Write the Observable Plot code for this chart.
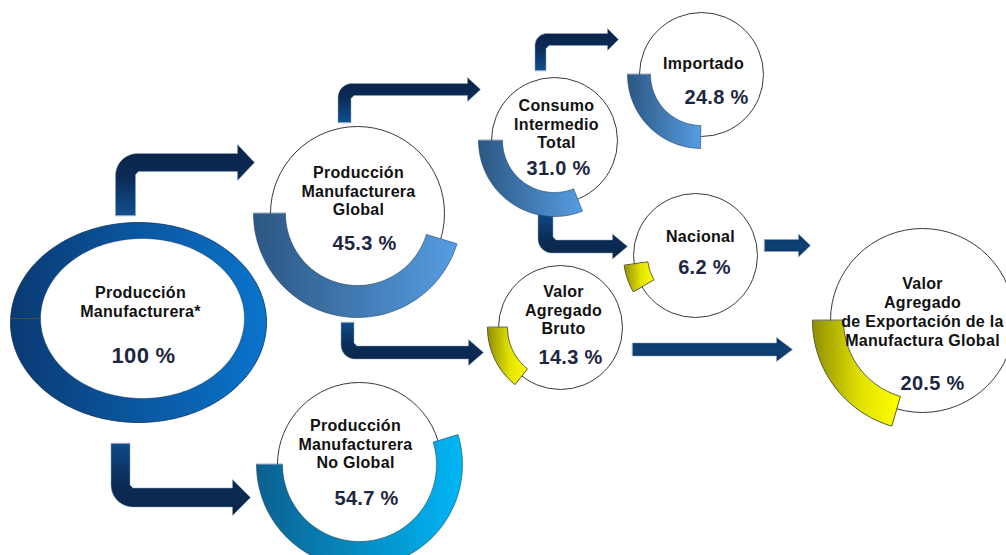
<!DOCTYPE html>
<html><head><meta charset="utf-8">
<script src="https://cdn.jsdelivr.net/npm/d3@7"></script>
<script src="https://cdn.jsdelivr.net/npm/@observablehq/plot@0.6"></script>
<style>html,body{margin:0;padding:0;background:#fff;} #chart svg{display:block}</style>
</head><body><div id="chart"></div>
<script>
// ---- data ----
const nodeNames = [
  "Producción\nManufacturera*",
  "Producción\nManufacturera\nGlobal",
  "Producción\nManufacturera\nNo Global",
  "Consumo\nIntermedio\nTotal",
  "Importado",
  "Nacional",
  "Valor\nAgregado\nBruto",
  "Valor\nAgregado\nde Exportación de la\nManufactura Global"
];
const nodeValues = [100, 45.3, 54.7, 31.0, 24.8, 6.2, 14.3, 20.5];
const flowSource = [0, 0, 1, 1, 3, 3, 5, 6];
const flowTarget = [1, 2, 3, 6, 4, 5, 7, 7];

// ---- layout (positions / sizes / styles) ----
const nodeLayout = [
  {cx: 138, cy: 322, rx: 128, ry: 100, icx: 142, icy: 318, irx: 102, iry: 80, lx: 140, ly: 301, px: 143, py: 355, ps: 22},
  {cx: 357, cy: 213, r: 87, rIn: 72, rOut: 104, a0: 0, grad: "gBlue", lx: 358, ly: 190, px: 364, py: 243, ps: 20},
  {cx: 359, cy: 464, r: 82, rIn: 77, rOut: 103, a0: 0, grad: "gCyan", lx: 355, ly: 443, px: 366, py: 498, ps: 20},
  {cx: 554, cy: 140, r: 63, rIn: 52, rOut: 76, a0: 0, grad: "gBlue", lx: 556, ly: 123, px: 558, py: 168, ps: 20},
  {cx: 701, cy: 74, r: 62, rIn: 51, rOut: 74, a0: 0, grad: "gBlue", lx: 703, ly: 62, px: 716, py: 97, ps: 20},
  {cx: 695, cy: 255, r: 62, rIn: 48, rOut: 72, a0: 8, grad: "gYellow", lx: 700, ly: 235, px: 704, py: 267, ps: 20},
  {cx: 560, cy: 327, r: 62, rIn: 53, rOut: 73, a0: 0, grad: "gYellow", lx: 563, ly: 309, px: 570, py: 357, ps: 20},
  {cx: 922, cy: 320, r: 92, rIn: 79, rOut: 110, a0: 0, grad: "gYellow", lx: 922, ly: 311, px: 932, py: 383, ps: 20}
];
// one arrow per flow, same order as flowSource/flowTarget
const arrowLayout = [
  {kind: "elbow", dir: -1, x0: 125, w: 10, y0: 215, yc: 162, w2: 9, xh: 237, xt: 254, hh: 18, ro: 22, grad: "gArrowUp"},
  {kind: "elbow", dir: 1, x0: 120, w: 9.5, y0: 443, yc: 497, w2: 9.5, xh: 232, xt: 250, hh: 18, ro: 22, grad: "gArrowDown"},
  {kind: "elbow", dir: -1, x0: 344, w: 6.5, y0: 122, yc: 89, w2: 6, xh: 467, xt: 480, hh: 12, ro: 14, grad: "gArrowUp"},
  {kind: "elbow", dir: 1, x0: 347, w: 6.5, y0: 322, yc: 352, w2: 6.5, xh: 468, xt: 483, hh: 13, ro: 14, grad: "gArrowDown"},
  {kind: "elbow", dir: -1, x0: 540, w: 5.5, y0: 70, yc: 39, w2: 6, xh: 607, xt: 618, hh: 11, ro: 12, grad: "gArrowUp"},
  {kind: "elbow", dir: 1, x0: 545, w: 7.5, y0: 212, yc: 246, w2: 6.5, xh: 612, xt: 627, hh: 12.5, ro: 14, grad: "gArrowDown"},
  {kind: "flat", x0: 764, yc: 245, w2: 6, xh: 798, xt: 810, hh: 11.5, grad: "gArrowFlat"},
  {kind: "flat", x0: 632, yc: 349, w2: 6.5, xh: 776, xt: 792, hh: 12, grad: "gArrowFlat"}
];

// ---- geometry helpers ----
function arcPoly(cx, cy, rIn, rOut, a0, span) {
  const n = Math.max(8, Math.ceil(span / 2));
  const pts = [];
  for (let i = 0; i <= n; i++) {
    const a = (a0 + span * i / n) * Math.PI / 180;
    pts.push({x: cx - rOut * Math.cos(a), y: cy + rOut * Math.sin(a)});
  }
  for (let i = n; i >= 0; i--) {
    const a = (a0 + span * i / n) * Math.PI / 180;
    pts.push({x: cx - rIn * Math.cos(a), y: cy + rIn * Math.sin(a)});
  }
  return pts;
}
function ellipsePoly(cx, cy, rx, ry) {
  const pts = [];
  for (let i = 0; i < 180; i++) {
    const a = i / 180 * 2 * Math.PI;
    pts.push({x: cx - rx * Math.cos(a), y: cy + ry * Math.sin(a)});
  }
  return pts;
}
function arrowPoly(a) {
  if (a.kind === "flat") {
    return [[a.x0, a.yc - a.w2], [a.xh, a.yc - a.w2], [a.xh, a.yc - a.hh], [a.xt, a.yc],
            [a.xh, a.yc + a.hh], [a.xh, a.yc + a.w2], [a.x0, a.yc + a.w2]].map(([x, y]) => ({x, y}));
  }
  const {x0, w, y0, yc, w2, xh, xt, hh, ro, dir: s} = a;
  const pts = [[x0 - w, y0]];
  const ocx = x0 - w + ro, ocy = yc + s * w2 - s * ro;
  for (let i = 0; i <= 12; i++) {
    const t = i / 12 * Math.PI / 2;
    pts.push([ocx - ro * Math.cos(t), ocy + s * ro * Math.sin(t)]);
  }
  const ri = 3;
  pts.push([xh, yc + s * w2], [xh, yc + s * hh], [xt, yc], [xh, yc - s * hh], [xh, yc - s * w2],
           [x0 + w + ri, yc - s * w2], [x0 + w, yc - s * w2 - s * ri], [x0 + w, y0]);
  return pts.map(([x, y]) => ({x, y}));
}

// ---- table built from the arrays ----
const nodes = nodeNames.map((name, i) => ({
  name, value: nodeValues[i],
  pct: (nodeValues[i] === 100 ? "100" : nodeValues[i].toFixed(1)) + " %",
  ...nodeLayout[i]
}));

// ---- gradients ----
function defs() {
  const d = d3.create("svg:defs");
  const lin = (id, stops, vertical) => {
    const g = d.append("linearGradient").attr("id", id)
      .attr("x1", 0).attr("y1", 0).attr("x2", vertical ? 0 : 1).attr("y2", vertical ? 1 : 0);
    stops.forEach(([o, c]) => g.append("stop").attr("offset", o).attr("stop-color", c));
  };
  lin("gRing", [[0, "#0a3a73"], [1, "#0a74cc"]]);
  lin("gBlue", [[0, "#2c5783"], [1, "#569de2"]]);
  lin("gCyan", [[0, "#0b6190"], [1, "#00b6f5"]]);
  lin("gYellow", [[0, "#8f8f05"], [0.55, "#e2e200"], [1, "#ffff00"]]);
  lin("gArrowUp", [[0, "#0a2347"], [0.45, "#0b2a55"], [1, "#10508f"]], true);
  lin("gArrowDown", [[0, "#0f4a88"], [0.55, "#0b2c56"], [1, "#0a2548"]], true);
  lin("gArrowFlat", [[0, "#0c3363"], [0.5, "#0f4176"], [1, "#0b3262"]], true);
  return d.node();
}

// ---- marks ----
const marks = [defs];
// arrows
arrowLayout.forEach((a, i) => {
  marks.push(Plot.line(arrowPoly(a), {x: "x", y: "y", curve: "linear-closed",
    fill: `url(#${a.grad})`, stroke: "#8ea3bd", strokeWidth: 0.5}));
});
// main ring (100 %)
const n0 = nodes[0];
marks.push(Plot.line(ellipsePoly(n0.cx, n0.cy, n0.rx, n0.ry), {x: "x", y: "y", curve: "linear-closed",
  fill: "url(#gRing)", stroke: "#0a2d5a", strokeWidth: 0.8}));
marks.push(Plot.line(ellipsePoly(n0.icx, n0.icy, n0.irx, n0.iry), {x: "x", y: "y", curve: "linear-closed",
  fill: "white", stroke: "#0a3a73", strokeWidth: 0.5}));
marks.push(Plot.line([{x: n0.cx - n0.rx, y: n0.icy}, {x: n0.icx - n0.irx, y: n0.icy}], {x: "x", y: "y", stroke: "#4a4a4a", strokeWidth: 1}));
// circles
const circles = nodes.slice(1);
marks.push(Plot.dot(circles, {x: "cx", y: "cy", r: "r", fill: "white", stroke: "#3a3a3a", strokeWidth: 1}));
// arcs proportional to the value
circles.forEach(n => {
  const yellow = n.grad === "gYellow";
  marks.push(Plot.line(arcPoly(n.cx, n.cy, n.rIn, n.rOut, n.a0, n.value / 100 * 360), {
    x: "x", y: "y", curve: "linear-closed", fill: `url(#${n.grad})`,
    stroke: yellow ? "#5a5a3a" : "#23456a", strokeWidth: yellow ? 1 : 0.6}));
});
// texts
marks.push(Plot.text(nodes, {x: "lx", y: "ly", text: "name", fontSize: 16, fontWeight: "bold", lineHeight: 1.18, fill: "#111111"}));
marks.push(Plot.text(nodes, {x: "px", y: "py", text: "pct", fontSize: "ps", fontWeight: "bold", fill: "#1d2742"}));

const chart = Plot.plot({
  width: 1006, height: 555,
  margin: 0,
  x: {domain: [0, 1006], range: [0, 1006], axis: null},
  y: {domain: [0, 555], range: [0, 555], axis: null},
  r: {type: "identity"},
  style: {fontFamily: "'Liberation Sans', Arial, sans-serif", letterSpacing: "0.3px", background: "white", overflow: "visible"},
  marks
});
document.getElementById("chart").append(chart);
</script>
</body></html>
